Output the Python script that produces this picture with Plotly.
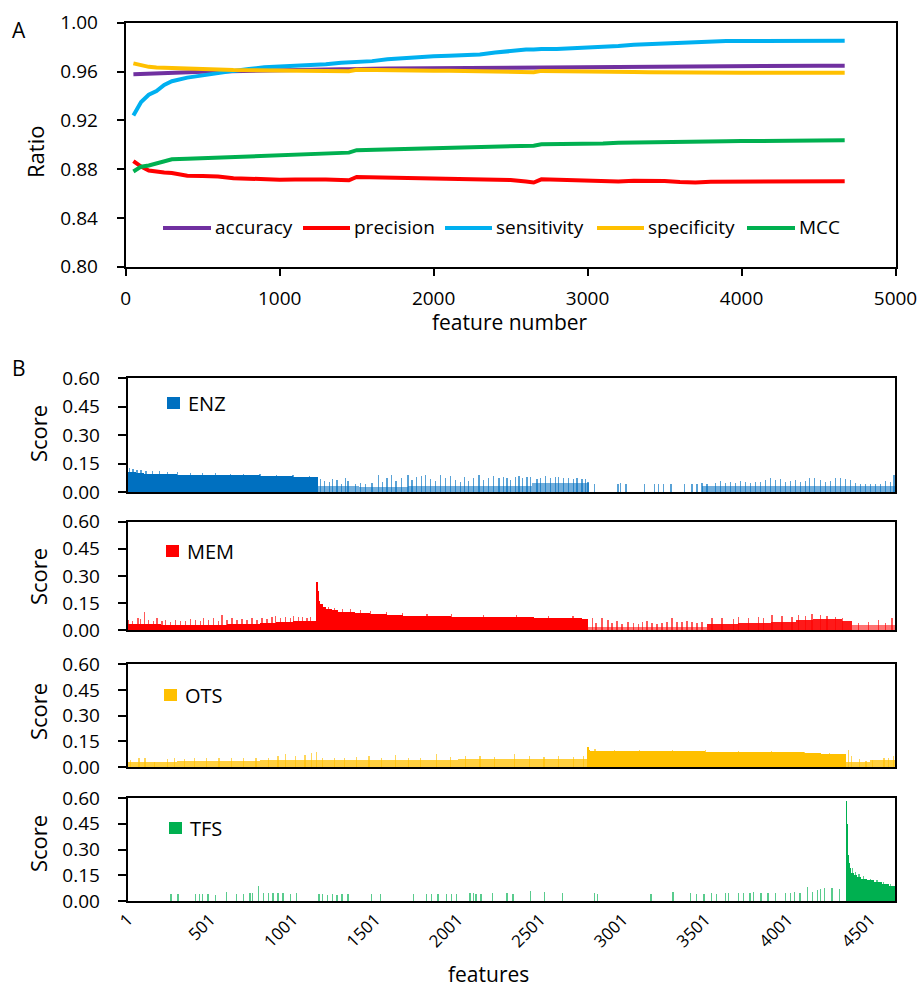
import numpy as np
import plotly.graph_objects as go

# ---------------- Panel A data ----------------
feat_num = [50, 100, 150, 200, 250, 300,
            400, 500, 600, 700, 800, 900, 1000, 1100, 1200, 1300, 1400,
            1450,
            1500, 1600, 1700, 1800, 1900, 2000, 2100, 2200, 2300, 2400, 2500, 2600,
            2650,
            2700, 2800, 2900, 3000, 3100, 3200, 3300, 3400, 3500, 3600, 3700, 3800, 3900,
            4000, 4100, 4200, 4300, 4400, 4500, 4600,
            4670]
accuracy = [0.9577, 0.9580, 0.9583, 0.9587, 0.9589, 0.9590,
            0.9594, 0.9597, 0.9600, 0.9603, 0.9607, 0.9610, 0.9612, 0.9613, 0.9615, 0.9616, 0.9618,
            0.9618,
            0.9622, 0.9623, 0.9624, 0.9625, 0.9626, 0.9628, 0.9629, 0.9630, 0.9631, 0.9632, 0.9634, 0.9635,
            0.9634,
            0.9638, 0.9638, 0.9639, 0.9640, 0.9640, 0.9641, 0.9642, 0.9642, 0.9643, 0.9644, 0.9644, 0.9645, 0.9645,
            0.9646, 0.9646, 0.9647, 0.9647, 0.9647, 0.9648, 0.9648,
            0.9648]
precision = [0.8866, 0.8820, 0.8788, 0.8778, 0.8772, 0.8768,
             0.8745, 0.8743, 0.8740, 0.8726, 0.8721, 0.8715, 0.8713, 0.8714, 0.8716, 0.8714, 0.8710,
             0.8708,
             0.8735, 0.8733, 0.8730, 0.8727, 0.8725, 0.8722, 0.8720, 0.8718, 0.8715, 0.8712, 0.8710, 0.8698,
             0.8690,
             0.8716, 0.8714, 0.8710, 0.8708, 0.8708, 0.8698, 0.8705, 0.8705, 0.8703, 0.8695, 0.8690, 0.8697, 0.8698,
             0.8700, 0.8702, 0.8703, 0.8702, 0.8702, 0.8702, 0.8701,
             0.8701]
sensitivity = [0.9240, 0.9350, 0.9410, 0.9440, 0.9490, 0.9520,
               0.9550, 0.9570, 0.9585, 0.9605, 0.9620, 0.9635, 0.9640, 0.9645, 0.9650, 0.9660, 0.9672,
               0.9675,
               0.9680, 0.9685, 0.9700, 0.9710, 0.9720, 0.9725, 0.9730, 0.9735, 0.9740, 0.9755, 0.9770, 0.9780,
               0.9780,
               0.9785, 0.9785, 0.9790, 0.9795, 0.9800, 0.9810, 0.9820, 0.9825, 0.9830, 0.9835, 0.9845, 0.9848, 0.9849,
               0.9850, 0.9850, 0.9850, 0.9850, 0.9851, 0.9851, 0.9852,
               0.9852]
specificity = [0.9667, 0.9650, 0.9638, 0.9633, 0.9630, 0.9628,
               0.9624, 0.9620, 0.9617, 0.9612, 0.9610, 0.9608, 0.9607, 0.9607, 0.9606, 0.9605, 0.9603,
               0.9602,
               0.9615, 0.9612, 0.9611, 0.9610, 0.9608, 0.9607, 0.9606, 0.9605, 0.9603, 0.9601, 0.9599, 0.9596,
               0.9594,
               0.9605, 0.9602, 0.9601, 0.9600, 0.9598, 0.9596, 0.9595, 0.9594, 0.9592, 0.9590, 0.9588, 0.9588, 0.9589,
               0.9589, 0.9589, 0.9590, 0.9590, 0.9590, 0.9590, 0.9590,
               0.9590]
mcc = [0.8780, 0.8820, 0.8830, 0.8845, 0.8860, 0.8880,
       0.8885, 0.8890, 0.8898, 0.8900, 0.8907, 0.8913, 0.8918, 0.8920, 0.8925, 0.8928, 0.8932,
       0.8935,
       0.8955, 0.8958, 0.8960, 0.8963, 0.8970, 0.8975, 0.8977, 0.8978, 0.8980, 0.8983, 0.8988, 0.8990,
       0.8992,
       0.9003, 0.9003, 0.9005, 0.9007, 0.9010, 0.9015, 0.9018, 0.9020, 0.9020, 0.9022, 0.9025, 0.9027, 0.9028,
       0.9030, 0.9030, 0.9032, 0.9033, 0.9034, 0.9035, 0.9036,
       0.9036]
series_names = ["accuracy", "precision", "sensitivity", "specificity", "MCC"]
series_colors = ["#7030A0", "#FF0000", "#00B0F0", "#FFC000", "#00B050"]

# ---------------- Panel B data ----------------
n_features = 4652
b_ticks = [1, 501, 1001, 1501, 2001, 2501, 3001, 3501, 4001, 4501]
score_ticks = [0.0, 0.15, 0.30, 0.45, 0.60]
panel_names = ["ENZ", "MEM", "OTS", "TFS"]
panel_colors = ["#0070C0", "#FF0000", "#FFC000", "#00B050"]

# ENZ
enz_dense_edges = [1, 50, 100, 200, 300, 400, 500, 600, 700, 800, 900, 1000, 1100, 1153]
enz_dense_vals = [0.105, 0.100, 0.097, 0.094, 0.092, 0.091, 0.090, 0.089, 0.088, 0.086, 0.084, 0.081, 0.077]
enz_bg_edges = [1153, 1400, 1700, 2450, 2793, 3480, 4652]
enz_bg_vals = [0.030, 0.025, 0.030, 0.050, 0.0, 0.030]
enz_spike_pos = [10, 30, 55, 80, 110, 150, 190, 240, 300, 380, 450, 530, 620, 700, 800, 900, 1000, 1100,
                 1166, 1193, 1221, 1241, 1268, 1294, 1318, 1334, 1379, 1409, 1440, 1480, 1520, 1541, 1571, 1597,
                 1625, 1658, 1698, 1722, 1747, 1778, 1803, 1833, 1864, 1894, 1925, 1955, 1985, 2015, 2041, 2066,
                 2096, 2127, 2156, 2187, 2217, 2248, 2278, 2297, 2317, 2348, 2371, 2392, 2419, 2438, 2479, 2499,
                 2530, 2560, 2590, 2610, 2640, 2671, 2701, 2721, 2752, 2772, 2788, 2829, 2970, 2984, 3018, 3131,
                 3190, 3217, 3246, 3292, 3372, 3418, 3449, 3479, 3510, 3561, 3590, 3621, 3651, 3681, 3712, 3742,
                 3773, 3802, 3833, 3863, 3894, 3924, 3954, 3985, 4015, 4046, 4075, 4106, 4130, 4163, 4197, 4227,
                 4258, 4287, 4318, 4348, 4379, 4409, 4440, 4470, 4500, 4531, 4560, 4591, 4621, 4642]
enz_spike_vals = [0.125, 0.120, 0.118, 0.115, 0.112, 0.110, 0.108, 0.106, 0.104, 0.102, 0.100, 0.098, 0.097, 0.095, 0.093, 0.091, 0.089, 0.085,
                  0.067, 0.058, 0.054, 0.067, 0.061, 0.044, 0.072, 0.058, 0.044, 0.046, 0.044, 0.049, 0.090, 0.054, 0.072, 0.090,
                  0.058, 0.072, 0.090, 0.061, 0.079, 0.084, 0.088, 0.067, 0.058, 0.090, 0.072, 0.084, 0.061, 0.054, 0.079, 0.058,
                  0.072, 0.088, 0.061, 0.072, 0.084, 0.075, 0.079, 0.072, 0.061, 0.079, 0.084, 0.072, 0.079, 0.079, 0.067, 0.072,
                  0.084, 0.075, 0.079, 0.079, 0.072, 0.072, 0.067, 0.072, 0.067, 0.067, 0.054, 0.040, 0.044, 0.049, 0.040, 0.040,
                  0.040, 0.044, 0.040, 0.040, 0.044, 0.044, 0.044, 0.046, 0.044, 0.049, 0.058, 0.049, 0.054, 0.049, 0.058, 0.054,
                  0.049, 0.054, 0.054, 0.061, 0.072, 0.061, 0.067, 0.054, 0.058, 0.061, 0.054, 0.058, 0.072, 0.072, 0.061, 0.054,
                  0.058, 0.075, 0.072, 0.067, 0.061, 0.049, 0.044, 0.040, 0.044, 0.040, 0.044, 0.058, 0.054, 0.088]

# MEM
mem_dense_edges = [1, 200, 400, 600, 800, 900, 1000, 1145,
                   1149, 1153, 1158, 1166, 1180, 1200, 1235, 1275, 1325, 1375, 1470, 1570, 1670, 1770, 1870,
                   1960, 2060, 2160, 2260, 2360, 2460, 2560, 2660, 2750, 2790]
mem_dense_vals = [0.033, 0.030, 0.031, 0.034, 0.042, 0.047, 0.052,
                  0.270, 0.220, 0.190, 0.165, 0.145, 0.128, 0.118, 0.110, 0.104, 0.099, 0.094, 0.089, 0.085, 0.081, 0.079,
                  0.077, 0.075, 0.074, 0.073, 0.072, 0.071, 0.070, 0.068, 0.066, 0.064]
mem_mid_edges = [3510, 3700, 3900, 4050, 4150, 4250, 4330, 4390]
mem_mid_vals = [0.036, 0.040, 0.047, 0.055, 0.063, 0.063, 0.054]
mem_bg_edges = [2790, 3510, 4390, 4652]
mem_bg_vals = [0.018, 0.0, 0.030]
mem_spike_pos = [4, 28, 61, 75, 101, 126, 156, 176, 206, 227, 257, 288, 318, 348, 378, 408, 439, 459, 490, 519,
                 550, 570, 601, 631, 661, 691, 722, 752, 783, 813, 843, 874, 894, 924, 954, 985, 1004, 1035,
                 1056, 1086, 1106,
                 1176, 1214, 1253, 1302, 1351, 1410, 1469, 1567, 1665, 1813, 1960, 2156, 2353, 2549, 2697,
                 2816, 2837, 2873, 2910, 2934, 2964, 2994, 3030, 3065, 3095, 3120, 3146, 3177, 3206, 3237, 3267,
                 3297, 3328, 3358, 3389, 3419, 3449, 3479,
                 3540, 3601, 3672, 3702, 3762, 3823, 3853, 3903, 3964, 4025, 4065, 4106, 4146, 4197, 4237, 4287, 4329,
                 4429, 4490, 4550, 4592, 4631]
mem_spike_vals = [0.057, 0.052, 0.066, 0.063, 0.100, 0.057, 0.052, 0.066, 0.052, 0.057, 0.048, 0.057, 0.052, 0.054, 0.063, 0.057, 0.052, 0.070, 0.057, 0.066,
                  0.052, 0.085, 0.057, 0.066, 0.057, 0.063, 0.057, 0.066, 0.057, 0.066, 0.063, 0.076, 0.081, 0.070, 0.076, 0.066, 0.081, 0.076,
                  0.076, 0.070, 0.076,
                  0.135, 0.130, 0.125, 0.120, 0.118, 0.110, 0.105, 0.100, 0.095, 0.090, 0.088, 0.085, 0.083, 0.080, 0.077,
                  0.066, 0.039, 0.066, 0.057, 0.039, 0.052, 0.033, 0.048, 0.039, 0.033, 0.044, 0.054, 0.039, 0.033, 0.039, 0.044,
                  0.070, 0.044, 0.048, 0.052, 0.048, 0.039, 0.044,
                  0.066, 0.070, 0.062, 0.076, 0.070, 0.076, 0.068, 0.085, 0.081, 0.076, 0.085, 0.081, 0.089, 0.085, 0.081, 0.072, 0.066,
                  0.039, 0.044, 0.057, 0.039, 0.070]

# OTS
ots_dense_edges = [2785, 2790, 2800, 2900, 3100, 3300, 3500, 3700, 3900, 4100, 4200, 4300, 4354]
ots_dense_vals = [0.115, 0.100, 0.094, 0.092, 0.090, 0.089, 0.088, 0.086, 0.083, 0.080, 0.077, 0.073]
ots_bg_edges = [1, 300, 800, 1200, 2000, 2785, 4354, 4500, 4652]
ots_bg_vals = [0.028, 0.032, 0.038, 0.040, 0.043, 0.0, 0.025, 0.040]
ots_spike_pos = [14, 68, 104, 163, 238, 283, 343, 403, 477, 552, 626, 701, 776, 850, 909, 954, 1014, 1074, 1113,
                 1142, 1178, 1253, 1313, 1387, 1462, 1537, 1620, 1701, 1775, 1871, 1954, 2044, 2134, 2223, 2343,
                 2432, 2522, 2611, 2700, 2760,
                 2830, 2950, 3100, 3300, 3500, 3700, 3900, 4100, 4250,
                 4367, 4385, 4433, 4474, 4513, 4582, 4611, 4641]
ots_spike_vals = [0.037, 0.053, 0.049, 0.029, 0.043, 0.049, 0.043, 0.049, 0.053, 0.049, 0.053, 0.049, 0.053, 0.049, 0.062, 0.076, 0.062, 0.068, 0.082,
                  0.088, 0.049, 0.053, 0.049, 0.057, 0.062, 0.049, 0.068, 0.053, 0.049, 0.072, 0.057, 0.062, 0.062, 0.057, 0.072,
                  0.062, 0.057, 0.062, 0.057, 0.062,
                  0.105, 0.100, 0.098, 0.097, 0.096, 0.094, 0.090, 0.087, 0.082,
                  0.095, 0.062, 0.043, 0.035, 0.040, 0.053, 0.050, 0.060]

# TFS
tfs_dense_edges = [4354, 4357, 4360, 4364, 4369, 4375, 4385, 4400, 4420, 4445, 4480, 4520, 4570, 4610, 4652]
tfs_dense_vals = [0.58, 0.45, 0.34, 0.27, 0.22, 0.19, 0.165, 0.15, 0.14, 0.13, 0.12, 0.11, 0.10, 0.088]
tfs_bg_edges = [4354, 4652]
tfs_bg_vals = [0.0]
tfs_spike_pos = [262, 303, 411, 432, 453, 486, 530, 596, 656, 701, 739, 754, 793, 820, 850, 880, 909, 940, 984, 1023,
                 1158, 1178, 1208, 1238, 1268, 1298, 1333, 1477, 1531, 1730, 1811, 1841, 1879, 1931, 1960, 1990,
                 2074, 2095, 2109, 2140, 2208, 2298, 2333, 2438, 2525, 2632, 2826, 2844, 3170, 3303, 3411, 3447,
                 3492, 3537, 3566, 3621, 3641, 3701, 3730, 3770, 3790, 3836, 3880, 3925, 3985, 4014, 4038, 4074,
                 4118, 4149, 4178, 4199, 4223, 4268, 4313,
                 4390, 4410, 4430, 4460, 4500, 4540, 4580, 4620]
tfs_spike_vals = [0.039, 0.039, 0.039, 0.039, 0.039, 0.039, 0.035, 0.054, 0.041, 0.041, 0.045, 0.045, 0.087, 0.049, 0.045, 0.049, 0.045, 0.045, 0.041, 0.045,
                  0.041, 0.039, 0.037, 0.039, 0.037, 0.041, 0.039, 0.039, 0.039, 0.039, 0.039, 0.039, 0.039, 0.041, 0.041, 0.041,
                  0.045, 0.045, 0.041, 0.039, 0.045, 0.049, 0.041, 0.058, 0.051, 0.049, 0.045, 0.041, 0.039, 0.054, 0.045, 0.041,
                  0.041, 0.045, 0.041, 0.045, 0.049, 0.045, 0.045, 0.049, 0.051, 0.049, 0.045, 0.045, 0.049, 0.049, 0.052, 0.049,
                  0.080, 0.054, 0.064, 0.068, 0.074, 0.074, 0.068,
                  0.190, 0.170, 0.160, 0.145, 0.130, 0.120, 0.110, 0.100]

panels = [
    (enz_dense_edges, enz_dense_vals, enz_bg_edges, enz_bg_vals, enz_spike_pos, enz_spike_vals, None, None),
    (mem_dense_edges, mem_dense_vals, mem_bg_edges, mem_bg_vals, mem_spike_pos, mem_spike_vals, mem_mid_edges, mem_mid_vals),
    (ots_dense_edges, ots_dense_vals, ots_bg_edges, ots_bg_vals, ots_spike_pos, ots_spike_vals, None, None),
    (tfs_dense_edges, tfs_dense_vals, tfs_bg_edges, tfs_bg_vals, tfs_spike_pos, tfs_spike_vals, None, None),
]
bg_opacity = [0.55, 0.55, 0.75, 0.5]

# ---------------- Layout helpers ----------------
# The page's body margin is removed (see post_script), so the figure fills the window exactly.
W, H = 921, 990
FONT = "Open Sans"


def px(x):
    return x / W


def py(y):
    return 1 - y / H


fig = go.Figure()

for name, vals, col in zip(series_names, [accuracy, precision, sensitivity, specificity, mcc], series_colors):
    fig.add_trace(go.Scatter(x=feat_num, y=vals, mode="lines", name=name,
                             line=dict(color=col, width=4), xaxis="x", yaxis="y",
                             showlegend=False, hoverinfo="skip"))


def add_blocks(edges, vals, color, opacity, ax):
    e = np.array(edges, dtype=float)
    fig.add_trace(go.Bar(x=e[:-1], y=vals, width=np.diff(e), offset=0,
                         marker=dict(color=color, line=dict(width=0)), opacity=opacity,
                         xaxis="x" + ax, yaxis="y" + ax, showlegend=False, hoverinfo="skip"))


for i, (de, dv, be, bv, sp, sv, me, mv) in enumerate(panels):
    ax = str(i + 2)
    col = panel_colors[i]
    add_blocks(be, bv, col, bg_opacity[i], ax)
    fig.add_trace(go.Bar(x=sp, y=sv, width=2, marker=dict(color=col, line=dict(width=0)), opacity=0.65,
                         xaxis="x" + ax, yaxis="y" + ax, showlegend=False, hoverinfo="skip"))
    if me is not None:
        add_blocks(me, mv, col, 0.9, ax)
    add_blocks(de, dv, col, 1.0, ax)

tickfont = dict(family=FONT, size=19, color="black")
axis_common = dict(showgrid=False, zeroline=False, showline=True, linecolor="black", linewidth=2,
                   mirror=True, tickfont=tickfont, tickcolor="black", tickwidth=2, automargin=False)

layout = dict(
    width=W, height=H, margin=dict(l=0, r=0, t=0, b=0, pad=0, autoexpand=False),
    template="none",
    paper_bgcolor="white", plot_bgcolor="white", barmode="overlay", bargap=0, bargroupgap=0,
    font=dict(family=FONT, color="black"),
    xaxis=dict(domain=[px(125.7), px(895.5)], range=[0, 5000], tickvals=[0, 1000, 2000, 3000, 4000, 5000],
               ticks="outside", ticklen=7, ticklabelstandoff=6, anchor="y", **axis_common),
    yaxis=dict(domain=[py(266.7), py(22.7)], range=[0.8, 1.0], tickvals=[0.80, 0.84, 0.88, 0.92, 0.96, 1.00],
               tickformat=".2f", ticks="outside", ticklen=7, ticklabelstandoff=15, anchor="x", **axis_common),
)

b_rows = [(378.3, 492.3), (521.7, 630.0), (664.3, 767.0), (798.0, 901.0)]
for i, (top, bot) in enumerate(b_rows):
    ax = str(i + 2)
    last = i == 3
    layout["xaxis" + ax] = dict(domain=[px(127.7), px(895.3)], range=[0.5, n_features + 0.5],
                                tickvals=b_ticks, ticktext=[str(t) for t in b_ticks],
                                showticklabels=last, tickangle=-45, ticks="",
                                anchor="y" + ax, **{**axis_common, "tickfont": dict(family=FONT, size=17, color="black")})
    layout["yaxis" + ax] = dict(domain=[py(bot), py(top)], range=[0, 0.6], tickvals=score_ticks,
                                tickformat=".2f", ticks="outside", ticklen=8, ticklabelstandoff=14,
                                anchor="x" + ax, **axis_common)

fig.update_layout(**layout)

annotations = []
shapes = []


def text(x, y, s, size=20, angle=0, xanchor="left"):
    annotations.append(dict(x=px(x), y=py(y), xref="paper", yref="paper", text=s, showarrow=False,
                            xanchor=xanchor, yanchor="middle", textangle=angle,
                            font=dict(family=FONT, size=size, color="black")))


text(19, 30, "A", size=21, xanchor="center")
text(19, 368, "B", size=21, xanchor="center")
text(35, 152, "Ratio", size=22, angle=-90, xanchor="center")
text(510, 322, "feature number", size=21, xanchor="center")
text(488, 974, "features", size=21, xanchor="center")
for cy in [434, 577, 712, 844]:
    text(38, cy, "Score", size=22, angle=-90, xanchor="center")

# Panel A legend
leg_lines = [(163, 211), (303, 350), (445, 492), (597, 644), (747, 795)]
leg_text_x = [213, 352, 494, 646, 797]
for (x0, x1), tx, name, col in zip(leg_lines, leg_text_x, series_names, series_colors):
    shapes.append(dict(type="line", xref="paper", yref="paper", x0=px(x0), x1=px(x1), y0=py(228), y1=py(228),
                       line=dict(color=col, width=4)))
    text(tx, 227, name, size=19)

# Panel B legends
sq = [(167, 397, 186, 403), (166, 545, 185, 551), (164, 689, 183, 695), (169, 822, 188, 828)]
for (sx, sy, tx, ty), name, col in zip(sq, panel_names, panel_colors):
    shapes.append(dict(type="rect", xref="paper", yref="paper", x0=px(sx), x1=px(sx + 13), y0=py(sy + 12),
                       y1=py(sy), fillcolor=col, line=dict(width=0)))
    text(tx, ty, name, size=20)

fig.update_layout(annotations=annotations, shapes=shapes)
fig.write_html(
    "out.html",
    config={"displayModeBar": False},
    post_script=("document.body.style.margin='0';"
                 "document.body.style.overflow='hidden';"
                 "document.documentElement.style.overflow='hidden';"),
)
